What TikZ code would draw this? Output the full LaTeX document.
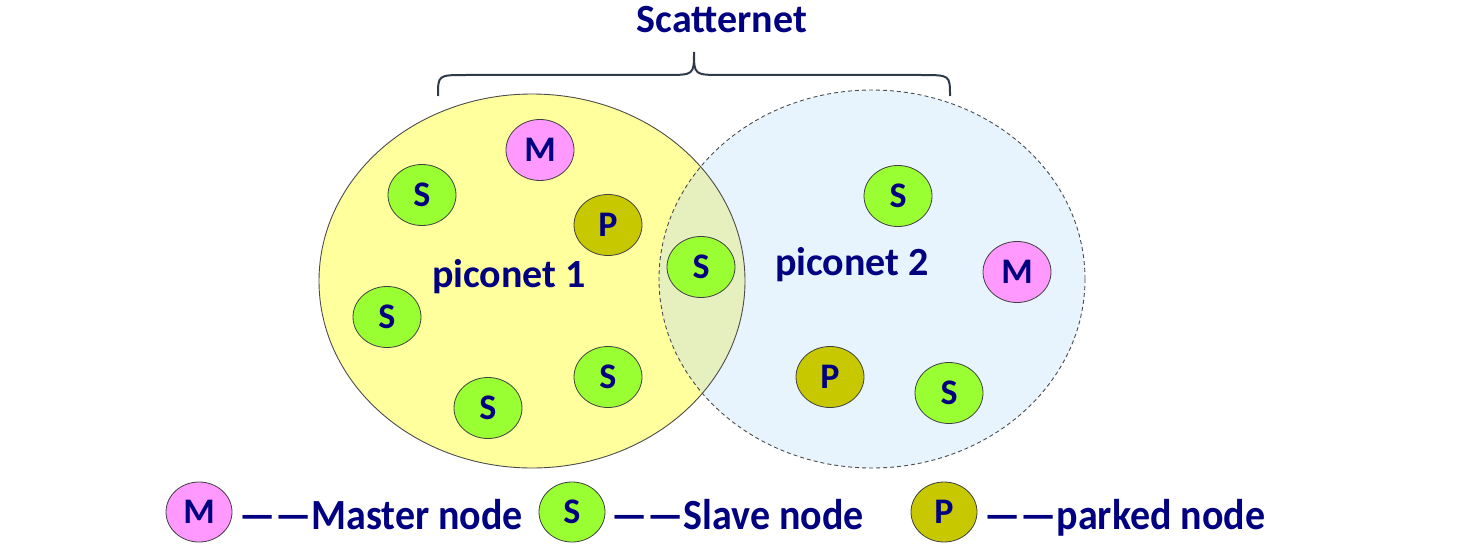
\documentclass[tikz,border=0pt]{standalone}
\usepackage{fontspec}
\setmainfont{Carlito}
\definecolor{navy}{HTML}{000080}
\definecolor{pyellow}{HTML}{FFFF9E}
\definecolor{pblue}{HTML}{E8F4FD}
\definecolor{pmix}{HTML}{E6EFBE}
\definecolor{mpink}{HTML}{FF99FF}
\definecolor{sgreen}{HTML}{99FF33}
\definecolor{polive}{HTML}{C8C800}
\definecolor{bracecol}{HTML}{2E3A4A}
\tikzset{
  dev/.style={ellipse, draw=black!75, line width=0.8pt, minimum width=68pt, minimum height=61pt, inner sep=0pt, text=navy, font=\bfseries\fontsize{36}{36}\selectfont},
  mnode/.style={dev, fill=mpink},
  snode/.style={dev, fill=sgreen},
  pnode/.style={dev, fill=polive},
  lbl/.style={text=navy, font=\bfseries\fontsize{40}{40}\selectfont, inner sep=0pt},
  leg/.style={text=navy, font=\bfseries\fontsize{43}{43}\selectfont, inner sep=0pt, anchor=base west},
}
\usetikzlibrary{shapes.geometric}
\begin{document}
\begin{tikzpicture}[x=1pt,y=-1pt]
\useasboundingbox (0,0) rectangle (1467,551);
% piconet areas
\fill[pyellow] (532,281) ellipse [x radius=213, y radius=187];
\fill[pblue] (872,279) ellipse [x radius=213, y radius=189];
\begin{scope}
\clip (532,281) ellipse [x radius=213, y radius=187];
\fill[pmix] (872,279) ellipse [x radius=213, y radius=189];
\end{scope}
\draw[black!70, line width=0.9pt] (532,281) ellipse [x radius=213, y radius=187];
\draw[black!70, line width=0.9pt, dash pattern=on 4pt off 3pt] (872,279) ellipse [x radius=213, y radius=189];
% brace
\draw[bracecol, line width=2pt] (438,96) .. controls (438,75) .. (466,75) -- (665,75) .. controls (694,75) .. (694,52) .. controls (694,75) .. (723,75) -- (921,75) .. controls (950,75) .. (950,96);
\node[lbl] (scat) at (722,20) {Scatternet};
% piconet 1
\node[lbl] (p1) at (509,277) {piconet 1};
\node[mnode] (m1) at (540,150) {M};
\node[snode] (s1) at (422,195) {S};
\node[pnode] (pk1) at (608,225) {P};
\node[snode] (s2) at (387,317) {S};
\node[snode] (s3) at (608,377) {S};
\node[snode] (s4) at (488,408) {S};
% shared
\node[snode] (sb) at (701,267) {S};
% piconet 2
\node[lbl] (p2) at (852,265) {piconet 2};
\node[snode] (s5) at (898,196) {S};
\node[mnode] (m2) at (1017,272) {M};
\node[pnode] (pk2) at (830,377) {P};
\node[snode] (s6) at (949,393) {S};
% legend
\node[mnode, minimum width=66pt, minimum height=60pt] (lm) at (199,512) {M};
\node[leg] (lmt) at (239,529) {\scalebox{0.93}[1]{——Master node}};
\node[snode, minimum width=66pt, minimum height=60pt] (ls) at (572,512) {S};
\node[leg] (lst) at (611,529) {\scalebox{0.93}[1]{——Slave node}};
\node[pnode, minimum width=66pt, minimum height=60pt] (lp) at (944,512) {P};
\node[leg] (lpt) at (984,529) {\scalebox{0.93}[1]{——parked node}};
\end{tikzpicture}
\end{document}
